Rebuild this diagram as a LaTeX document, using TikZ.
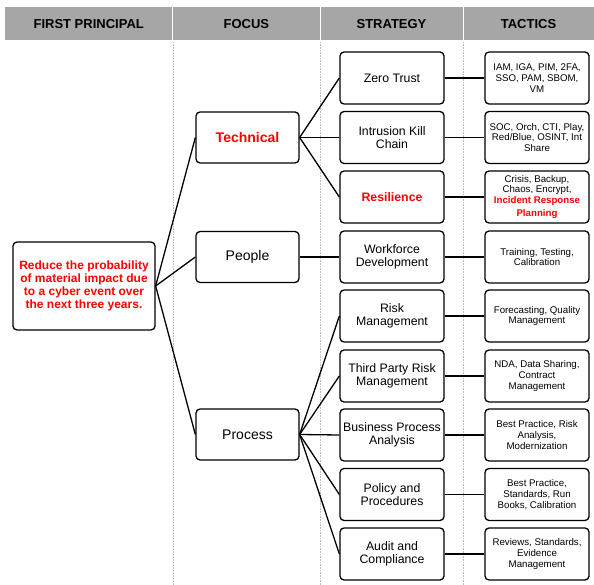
\documentclass[tikz,border=0pt]{standalone}
\usepackage{fontspec}
\setmainfont{Liberation Sans}
\definecolor{headgray}{HTML}{A6A6A6}
\definecolor{sepgray}{HTML}{BEBEBE}
\begin{document}
\begin{tikzpicture}[x=1pt, y=-1pt,
    box/.style={draw, rounded corners=4pt, line width=1.3pt, align=center, inner sep=1pt},
    goalbox/.style={box, minimum width=142pt, minimum height=88pt, text=red, font=\bfseries\fontsize{12}{13}\selectfont},
    focusbox/.style={box, minimum width=103pt, minimum height=51pt, font=\fontsize{14}{16}\selectfont},
    stratbox/.style={box, minimum width=104pt, minimum height=52pt, font=\fontsize{12.3}{13.5}\selectfont},
    tacbox/.style={box, minimum width=104pt, minimum height=52pt, font=\fontsize{9.7}{10.8}\selectfont},
    head/.style={fill=headgray, draw=white, line width=1pt, minimum height=34pt, inner sep=0pt, font=\bfseries\fontsize{13}{15}\selectfont},
    link/.style={line width=1.3pt},
    sepline/.style={sepgray, densely dotted, line width=0.6pt}]
    \useasboundingbox (0,0) rectangle (594,585);

    % header row
    \node[head, minimum width=168pt] (h1) at (88.7,23.7) {FIRST PRINCIPAL};
    \node[head, minimum width=147.3pt] (h2) at (246.4,23.7) {FOCUS};
    \node[head, minimum width=143pt] (h3) at (391.5,23.7) {STRATEGY};
    \node[head, minimum width=131pt] (h4) at (528.5,23.7) {TACTICS};
    \foreach \x in {173,320,463}
        \draw[sepline] (\x,42) -- (\x,585);

    \node[goalbox] (goal) at (84,286) {Reduce the probability\\of material impact due\\to a cyber event over\\the next three years.};

    % focus
    \node[focusbox, text=red, font=\bfseries\fontsize{14}{16}\selectfont] (tech) at (247.5,137.5) {Technical};
    \node[focusbox] (people) at (247.5,257) {People};
    \node[focusbox] (proc) at (247.5,434.5) {Process};

    % strategy
    \node[stratbox] (zt) at (392,78) {Zero Trust};
    \node[stratbox] (ikc) at (392,137.5) {Intrusion Kill\\Chain};
    \node[stratbox, text=red, font=\bfseries\fontsize{12.3}{13.5}\selectfont] (res) at (392,197) {Resilience};
    \node[stratbox] (wfd) at (392,257) {Workforce\\Development};
    \node[stratbox] (risk) at (392,316) {Risk\\Management};
    \node[stratbox] (tprm) at (392,376) {Third Party Risk\\Management};
    \node[stratbox] (bpa) at (392,435) {Business Process\\Analysis};
    \node[stratbox] (pp) at (392,494.5) {Policy and\\Procedures};
    \node[stratbox] (ac) at (392,554) {Audit and\\Compliance};

    % tactics
    \node[tacbox] (zt-t) at (537,78) {IAM, IGA, PIM, 2FA,\\SSO, PAM, SBOM,\\VM};
    \node[tacbox] (ikc-t) at (537,137.5) {SOC, Orch, CTI, Play,\\Red/Blue, OSINT, Int\\Share};
    \node[tacbox] (res-t) at (537,197) {Crisis, Backup,\\Chaos, Encrypt,\\\textcolor{red}{\bfseries Incident Response}\\[2.5pt]\textcolor{red}{\bfseries Planning}};
    \node[tacbox] (wfd-t) at (537,257) {Training, Testing,\\Calibration};
    \node[tacbox] (risk-t) at (537,316) {Forecasting, Quality\\Management};
    \node[tacbox] (tprm-t) at (537,376) {NDA, Data Sharing,\\Contract\\Management};
    \node[tacbox] (bpa-t) at (537,435) {Best Practice, Risk\\Analysis,\\Modernization};
    \node[tacbox] (pp-t) at (537,494.5) {Best Practice,\\Standards, Run\\Books, Calibration};
    \node[tacbox] (ac-t) at (537,554) {Reviews, Standards,\\Evidence\\Management};

    \foreach \f in {tech,people,proc}
        \draw[link] (goal.east) -- (\f.west);
    \foreach \s in {zt,ikc,res}
        \draw[link] (tech.east) -- (\s.west);
    \draw[link] (people.east) -- (wfd.west);
    \foreach \s in {risk,tprm,bpa,pp,ac}
        \draw[link] (proc.east) -- (\s.west);
    \foreach \s in {zt,ikc,res,wfd,risk,tprm,bpa,pp,ac}
        \draw[link] (\s.east) -- (\s-t.west);
\end{tikzpicture}
\end{document}
